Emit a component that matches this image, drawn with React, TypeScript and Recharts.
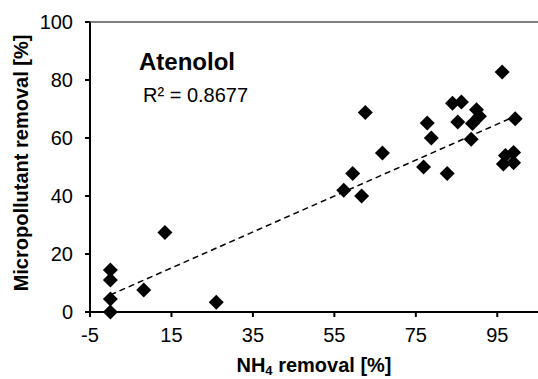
import React from 'react';
import {
  ScatterChart, Scatter, XAxis, YAxis, ReferenceLine,
} from 'recharts';

const FONT = '"Liberation Sans", Arial, sans-serif';

// NH4 removal [%] per sample
const nh4Removal = [
  0, 0, 0, 0, 8.2, 13.4, 26, 57.3, 59.5, 61.7, 62.6, 66.8, 76.9, 77.8, 78.8,
  82.7, 84, 86.2, 85.3, 88.6, 88.9, 89.9, 90.6, 96.2, 99.4, 96.5, 97, 99, 99,
];
// Micropollutant (atenolol) removal [%] per sample
const microRemoval = [
  14.5, 11, 4.5, 0, 7.6, 27.4, 3.4, 42, 47.8, 40, 68.8, 54.8, 50, 65.2, 60,
  47.8, 72, 72.4, 65.5, 59.6, 65, 69.7, 67.5, 82.8, 66.6, 51, 54, 55, 51.5,
];

// linear trend line end points
const trendX = [0, 99.4];
const trendY = [5.9, 67.5];

const xTicks = [-5, 15, 35, 55, 75, 95];
const yTicks = [0, 20, 40, 60, 80, 100];

const data = nh4Removal.map((x, i) => ({ x, y: microRemoval[i] }));

const Diamond = (props: any) => {
  const { cx, cy } = props;
  const r = 7.5;
  return (
    <path
      d={`M${cx},${cy - r}L${cx + r},${cy}L${cx},${cy + r}L${cx - r},${cy}Z`}
      fill="#000"
    />
  );
};

const XTitle = (props: any) => {
  const { viewBox } = props;
  const cx = viewBox.x + viewBox.width / 2;
  return (
    <text x={cx} y={372} textAnchor="middle" fontFamily={FONT} fontSize={20} fontWeight="bold" fill="#000">
      NH<tspan fontSize={13} dy={3}>4</tspan>
      <tspan dy={-3}> removal [%]</tspan>
    </text>
  );
};

const YTitle = () => (
  <text
    x={0}
    y={0}
    transform="translate(28, 163) rotate(-90)"
    textAnchor="middle"
    fontFamily={FONT}
    fontSize={20}
    fontWeight="bold"
    fill="#000"
  >
    Micropollutant removal [%]
  </text>
);

const App: React.FC = () => {
  return (
    <div style={{ position: 'absolute', left: 0, top: 0, width: 538, height: 379, background: '#fff' }}>
      <ScatterChart
        width={538}
        height={379}
        margin={{ top: 22, right: 0, bottom: 0, left: 0 }}
      >
        <XAxis
          type="number"
          dataKey="x"
          domain={[-5, 105]}
          ticks={xTicks}
          allowDataOverflow
          height={67}
          tickSize={5}
          tickMargin={11}
          stroke="#000"
          strokeWidth={2}
          tick={{ fill: '#000', fontSize: 20, fontFamily: FONT }}
          label={<XTitle />}
        />
        <YAxis
          type="number"
          dataKey="y"
          domain={[0, 100]}
          ticks={yTicks}
          width={90}
          tickSize={5}
          tickMargin={12}
          stroke="#000"
          strokeWidth={2}
          tick={{ fill: '#000', fontSize: 20, fontFamily: FONT }}
          label={<YTitle />}
        />
        <ReferenceLine y={100} stroke="#000" strokeWidth={1} />
        <ReferenceLine
          segment={[{ x: trendX[0], y: trendY[0] }, { x: trendX[1], y: trendY[1] }]}
          stroke="#000"
          strokeWidth={1.5}
          strokeDasharray="6 4"
        />
        <Scatter data={data} fill="#000" shape={<Diamond />} isAnimationActive={false} />
      </ScatterChart>
      <svg
        width={538}
        height={379}
        style={{ position: 'absolute', left: 0, top: 0, pointerEvents: 'none' }}
      >
        <text x={139} y={70} fontFamily={FONT} fontSize={24} fontWeight="bold" fill="#000">
          Atenolol
        </text>
        <text x={143} y={102} fontFamily={FONT} fontSize={20} fill="#000">
          R² = 0.8677
        </text>
      </svg>
    </div>
  );
};

export default App;
